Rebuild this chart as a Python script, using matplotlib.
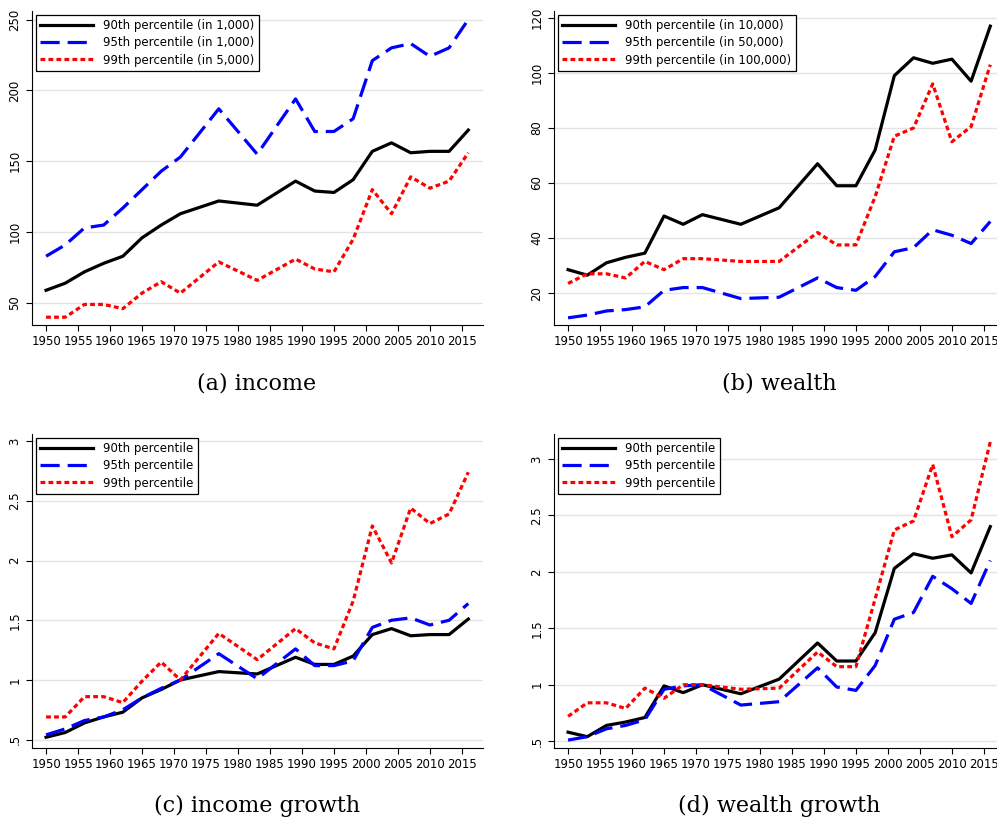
import matplotlib
matplotlib.use("Agg")
import matplotlib.pyplot as plt

years = [1950, 1953, 1956, 1959, 1962, 1965, 1968, 1971, 1977, 1983,
         1989, 1992, 1995, 1998, 2001, 2004, 2007, 2010, 2013, 2016]

inc90 = [59, 64, 72, 78, 83, 96, 105, 113, 122, 119, 136, 129, 128, 137, 157, 163, 156, 157, 157, 172]
inc95 = [83, 91, 103, 105, 117, 130, 143, 153, 187, 155, 194, 171, 171, 180, 221, 230, 233, 224, 230, 250]
inc99 = [40, 40, 49, 49, 46, 57, 65, 57, 79, 66, 81, 74, 72, 95, 130, 113, 139, 131, 136, 156]

wea90 = [28.5, 26.5, 31, 33, 34.5, 48, 45, 48.5, 45, 51, 67, 59, 59, 72, 99, 105.5, 103.5, 105, 97, 117]
wea95 = [11, 12, 13.5, 14, 15, 21, 22, 22, 18, 18.5, 25.5, 22, 21, 26, 35, 36.5, 43, 41, 38, 46]
wea99 = [23.5, 27, 27, 25.5, 31.5, 28.5, 32.5, 32.5, 31.5, 31.5, 42, 37.5, 37.5, 55, 77, 80, 96, 75, 80.5, 103]

ig90 = [.52, .56, .64, .69, .73, .85, .92, 1.0, 1.07, 1.05, 1.19, 1.13, 1.13, 1.2, 1.38, 1.43, 1.37, 1.38, 1.38, 1.51]
ig95 = [.54, .59, .66, .69, .75, .85, .93, 1.0, 1.22, 1.01, 1.26, 1.12, 1.12, 1.16, 1.44, 1.5, 1.52, 1.46, 1.5, 1.64]
ig99 = [.69, .69, .86, .86, .81, .99, 1.15, 1.0, 1.39, 1.17, 1.43, 1.31, 1.26, 1.66, 2.29, 1.98, 2.44, 2.31, 2.39, 2.74]

wg90 = [.58, .54, .64, .67, .71, .99, .93, 1.0, .92, 1.05, 1.37, 1.21, 1.21, 1.46, 2.03, 2.16, 2.12, 2.15, 1.99, 2.40]
wg95 = [.51, .54, .61, .64, .69, .96, .99, 1.0, .82, .85, 1.15, .98, .95, 1.17, 1.58, 1.64, 1.96, 1.85, 1.72, 2.1]
wg99 = [.72, .84, .84, .79, .97, .88, 1.0, 1.0, .96, .97, 1.29, 1.16, 1.16, 1.76, 2.37, 2.45, 2.95, 2.31, 2.46, 3.15]

xticks = list(range(1950, 2020, 5))

W, H = 997, 822
fig = plt.figure(figsize=(W / 100, H / 100), dpi=100)


def panel(left, top, bottom, ylim, yticks, ylabels, series, labels, caption, capy):
    ax = fig.add_axes([left / W, 1 - bottom / H, 451 / W, (bottom - top) / H])
    styles = [dict(color="black", ls="-"),
              dict(color="#0000ff", ls=(0, (6, 2.5))),
              dict(color="#ff0000", ls=(0, (1.5, 1)))]
    for s, lab, st in zip(series, labels, styles):
        ax.plot(years, s, lw=2.3, label=lab, **st)
    ax.set_xlim(1947.8, 2018.3)
    ax.set_ylim(*ylim)
    ax.set_xticks(xticks)
    ax.set_yticks(yticks)
    ax.set_yticklabels(ylabels, rotation=90, va="center")
    ax.tick_params(labelsize=8.5, length=4, width=0.8, color="black")
    ax.grid(axis="y", color="#e4e4e4", lw=1)
    ax.set_axisbelow(True)
    for sp in ["top", "right"]:
        ax.spines[sp].set_visible(False)
    leg = ax.legend(loc="upper left", fontsize=8.5, fancybox=False, framealpha=1,
                    edgecolor="black", handlelength=4.5, borderaxespad=0.3,
                    labelspacing=0.35)
    leg.get_frame().set_linewidth(0.9)
    fig.text((left + 225) / W, 1 - capy / H, caption, ha="center", va="center",
             fontsize=16, family="DejaVu Serif")
    return ax


panel(32, 11, 325, (34.5, 256), [50, 100, 150, 200, 250], ["50", "100", "150", "200", "250"],
      [inc90, inc95, inc99],
      ["90th percentile (in 1,000)", "95th percentile (in 1,000)", "99th percentile (in 5,000)"],
      "(a) income", 383)
panel(554, 11, 325, (8.4, 122.5), [20, 40, 60, 80, 100, 120], ["20", "40", "60", "80", "100", "120"],
      [wea90, wea95, wea99],
      ["90th percentile (in 10,000)", "95th percentile (in 50,000)", "99th percentile (in 100,000)"],
      "(b) wealth", 383)
panel(32, 434, 748, (0.43, 3.06), [.5, 1, 1.5, 2, 2.5, 3], [".5", "1", "1.5", "2", "2.5", "3"],
      [ig90, ig95, ig99],
      ["90th percentile", "95th percentile", "99th percentile"],
      "(c) income growth", 806)
panel(554, 434, 748, (0.44, 3.22), [.5, 1, 1.5, 2, 2.5, 3], [".5", "1", "1.5", "2", "2.5", "3"],
      [wg90, wg95, wg99],
      ["90th percentile", "95th percentile", "99th percentile"],
      "(d) wealth growth", 806)

fig.savefig("out.png", dpi=100)
